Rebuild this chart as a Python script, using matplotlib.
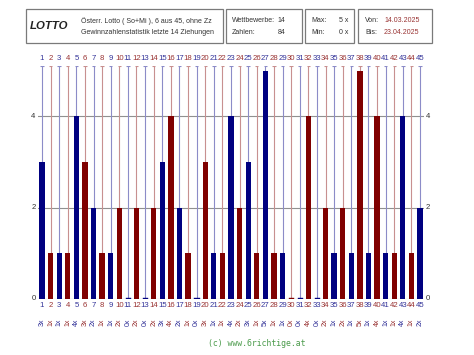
import matplotlib
matplotlib.use("Agg")
import matplotlib.pyplot as plt
from matplotlib.patches import Rectangle

# Lotto-Statistik: Häufigkeit der Zahlen 1..45 in den letzten 14 Ziehungen
zahlen = list(range(1, 46))
haeufigkeit = [3, 1, 1, 1, 4, 3, 2, 1, 1, 2,
               0, 2, 0, 2, 3, 4, 2, 1, 0, 3,
               1, 1, 4, 2, 3, 1, 5, 1, 1, 0,
               0, 4, 0, 2, 1, 2, 1, 5, 1, 4,
               1, 1, 4, 1, 2]
y_ticks = [0, 2, 4]

titel = "LOTTO"
info_zeilen = ["Österr. Lotto ( So+Mi ), 6 aus 45, ohne Zz",
               "Gewinnzahlenstatistik letzte 14 Ziehungen"]
wettbewerbe = 14
anzahl_zahlen = 84
von_datum = "14.03.2025"
bis_datum = "23.04.2025"

BLAU = "#000080"
ROT = "#800000"
BLAU_HELL = "#8c8cc8"
ROT_HELL = "#c89090"
BLAU_TEXT = "#333399"
ROT_TEXT = "#993333"
FONT = "Liberation Sans"
FS = 5.6
FS_KOPF = 5.0

W, H = 474, 355
fig = plt.figure(figsize=(W / 100, H / 100), dpi=100)
fig.patch.set_facecolor("white")


def px(x, y):
    """Pixel (von oben links) -> Figurkoordinaten."""
    return x / W, 1 - y / H


ymax = 5.1
ax = fig.add_axes([37.7 / W, (H - 299) / H, 386.6 / W, 233 / H])
ax.set_xlim(0.5, 45.5)
ax.set_ylim(0, ymax)
ax.axis("off")

# Gitterlinien
for t in y_ticks:
    ax.axhline(t, color="#909090", lw=0.8, zorder=1)
    ax.text(0.5 - 0.25, t, str(t), ha="right", va="center", fontsize=FS,
            family=FONT, color="#333333")
    ax.text(45.5 + 0.2, t, str(t), ha="left", va="center", fontsize=FS,
            family=FONT, color="#333333")

farben = [BLAU if z % 2 else ROT for z in zahlen]
hell = [BLAU_HELL if z % 2 else ROT_HELL for z in zahlen]
text_farben = [BLAU_TEXT if z % 2 else ROT_TEXT for z in zahlen]

# dünne Linien mit Kappe oben
ax.vlines(zahlen, 0, ymax, colors=hell, lw=0.8, zorder=2)
ax.hlines([ymax] * len(zahlen), [z - 0.2 for z in zahlen],
          [z + 0.2 for z in zahlen], colors=hell, lw=0.8, zorder=2)

ax.bar(zahlen, haeufigkeit, width=0.62, color=farben, zorder=3)
for z, h, c in zip(zahlen, haeufigkeit, farben):
    if h == 0:
        ax.plot([z - 0.25, z + 0.25], [0.02, 0.02], color=c, lw=1.0, zorder=3)

for z, h, c in zip(zahlen, haeufigkeit, text_farben):
    ax.text(z, ymax + 0.09, str(z), ha="center", va="bottom", fontsize=FS,
            family=FONT, color=c)
    ax.text(z, -0.06, str(z), ha="center", va="top", fontsize=FS,
            family=FONT, color=c)
    ax.text(z, -0.42, f"{h}x", ha="center", va="top", fontsize=FS - 0.6,
            family=FONT, color=c, rotation=90)

# Kopfzeilen-Boxen
boxen = [(26, 9, 223, 43), (226, 9, 302, 43), (305, 9, 354, 43), (358, 9, 432, 43)]
for x0, y0, x1, y1 in boxen:
    fx, fy = px(x0, y1)
    fig.patches.append(Rectangle((fx, fy), (x1 - x0) / W, (y1 - y0) / H,
                                 transform=fig.transFigure, fill=False,
                                 edgecolor="#7a7a7a", lw=0.9))


def kopf(x, y, s, **kw):
    kw.setdefault("fontsize", FS_KOPF)
    kw.setdefault("color", "#333333")
    fig.text(*px(x, y), s, va="center", family=FONT, **kw)


kopf(30, 26, titel, fontsize=8.2, fontweight="bold", fontstyle="italic",
     color="#222222")
kopf(81, 21, info_zeilen[0])
kopf(81, 32, info_zeilen[1])
kopf(232, 21, "Wettbewerbe:")
kopf(285, 21, str(wettbewerbe), ha="right")
kopf(232, 32, "Zahlen:")
kopf(285, 32, str(anzahl_zahlen), ha="right")
kopf(311, 21, "Max:")
kopf(348, 21, f"{max(haeufigkeit)} x", ha="right")
kopf(311, 32, "Min:")
kopf(348, 32, f"{min(haeufigkeit)} x", ha="right")
kopf(365, 21, "Von:")
kopf(384, 21, von_datum, color=ROT_TEXT)
kopf(365, 32, "Bis:")
kopf(384, 32, bis_datum, color=ROT_TEXT)

fig.text(*px(257, 344), "(c) www.6richtige.at", ha="center", va="center",
         fontsize=5.9, family="DejaVu Sans Mono", color="#4a9a4a")

fig.savefig("out.png", dpi=100, facecolor="white")
